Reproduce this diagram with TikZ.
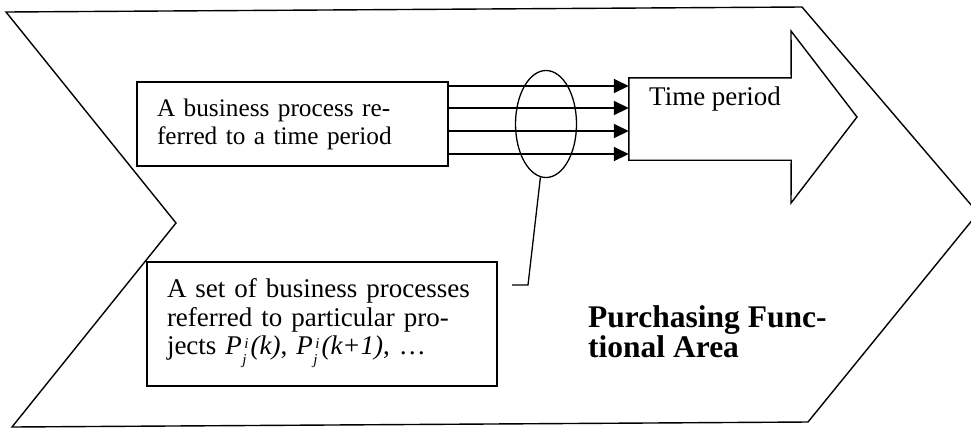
\documentclass[tikz,border=0pt]{standalone}
\usepackage{fontspec}
\setmainfont{Liberation Serif}
\usetikzlibrary{arrows.meta,shapes.geometric}

% italic P with stacked sub- and superscript set as one block
\newcommand\Pji{\textit{P}\kern0.5pt\raisebox{-0.75ex}{\fontsize{15}{16}\selectfont\itshape
  \begin{tabular}[b]{@{}l@{}}\kern2pt i\\j\end{tabular}}\kern2pt}

\tikzset{
  outline/.style={line width=1.4pt, line join=miter},
  textbox/.style={draw, line width=1.4pt, rectangle, align=left, anchor=center,
    inner xsep=20pt},
  flow/.style={line width=1.6pt, -{Triangle[length=15pt,width=14pt]}},
}

\begin{document}
\begin{tikzpicture}[x=1pt,y=-1pt]
\useasboundingbox (0,0) rectangle (971,432);

% the functional-area chevron
\draw[outline] (6,12) -- (802,7) -- (978,213) -- (808,422) -- (12,427) -- (176,223) -- cycle;

% business process box
\node[textbox, minimum width=311pt, minimum height=84pt, text width=271pt,
  font=\fontsize{25.3}{28}\selectfont]
  (proc) at (292.5,124) {A business process re-\\ferred to a time period};

% time-period block arrow
\node[minimum width=162pt, minimum height=82pt, inner sep=0pt] (tpbody) at (710,119) {};
\draw[outline] (tpbody.north west) -- (tpbody.north east) -- (791,31) -- (857,117)
  -- (791,203) -- (tpbody.south east) -- (tpbody.south west) -- cycle;
\node[anchor=base west, inner sep=0pt, font=\fontsize{27}{30}\selectfont]
  (tplabel) at (649,105) {Time period};

% the four process flows
\foreach \yy in {86,108,131,154}
  \draw[flow] (proc.east |- {(0,\yy)}) -- (tpbody.west |- {(0,\yy)});

% grouping ring and its leader
\node[draw, ellipse, line width=1.3pt, minimum width=61pt, minimum height=107pt, inner sep=0pt]
  (ring) at (546,124) {};
\coordinate (bend) at (528,285);
\coordinate (lend) at (512,285);
\draw[line width=1.3pt] (ring.-96) -- (bend) -- (lend);

% set of projects box
\node[textbox, minimum width=350pt, minimum height=124pt, text width=310pt,
  font=\fontsize{27}{28.5}\selectfont]
  (proj) at (322,324) {A set of business processes\\referred to particular pro-\\jects \Pji\textit{(k)}, \Pji\textit{(k+1)}, \dots};

% area caption
\node[anchor=base west, inner sep=0pt, align=left, font=\bfseries\fontsize{31.5}{28}\selectfont]
  (area) at (588,357) {Purchasing Func-\\tional Area};
\end{tikzpicture}
\end{document}
